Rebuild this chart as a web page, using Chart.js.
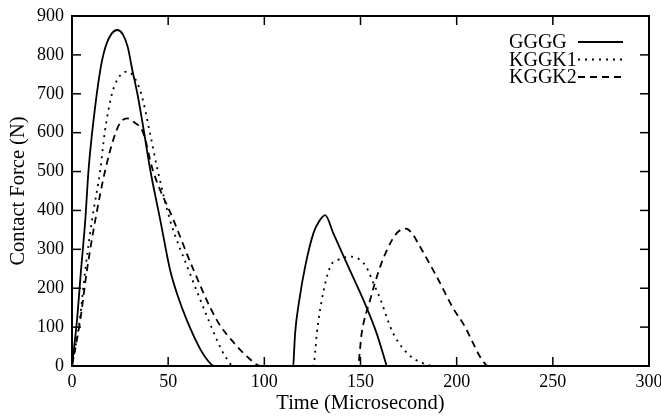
<!DOCTYPE html>
<html>
<head>
<meta charset="utf-8">
<script src="https://cdn.jsdelivr.net/npm/chart.js@4/dist/chart.umd.min.js"></script>
<style>
  html, body { margin: 0; padding: 0; background: #fff; }
  #wrap { width: 661px; height: 416px; position: relative; }
</style>
</head>
<body>
<div id="wrap"><canvas id="c"></canvas></div>
<script>
// ---- data ----
const seriesNames = ['GGGG', 'KGGK1', 'KGGK2'];

const ggggTime  = [0, 2.6, 4.7, 6.9, 8.6, 11.2, 14.7, 17.5, 20.5, 23.5, 26.5, 29, 31.2, 34, 36.5, 40.7, 45.9, 51, 55, 59.7, 66, 70, 74,
                   115, 115.5, 116, 118.2, 121.2, 125.5, 128.5, 131.6, 135.9, 143.7, 151.5, 158.4, 163.6];
const ggggForce = [0, 118, 247, 375, 504, 632, 761, 822, 854, 864, 852, 820, 765, 700, 630, 504, 375, 247, 180, 118, 50, 18, 0,
                   0, 40, 84, 170, 255, 341, 372, 388, 341, 255, 170, 84, 0];

const kggk1Time  = [0, 4, 6.9, 10.4, 14.7, 17, 20.8, 24, 28.6, 32, 36, 40.5, 44.5, 51, 60.6, 71, 76, 80, 84,
                    125.5, 126.5, 127.3, 129.9, 134.2, 138, 145.5, 150, 153, 157, 160.5, 164, 167, 171, 176, 181, 187];
const kggk1Force = [0, 118, 247, 375, 504, 600, 700, 740, 757, 745, 700, 600, 504, 375, 247, 118, 60, 22, 0,
                    0, 40, 84, 170, 255, 272, 281, 272, 255, 210, 170, 120, 84, 52, 25, 10, 0];

const kggk2Time  = [0, 4.3, 7.8, 12.1, 17.3, 22, 25, 28.6, 32, 37, 42, 52.8, 63.2, 75.3, 85, 92, 98,
                    148.6, 150.6, 155, 160.2, 166.5, 170, 173.5, 177, 180, 189.6, 198, 204.3, 208.6, 212, 215.6];
const kggk2Force = [0, 118, 247, 375, 504, 590, 625, 637, 628, 600, 504, 375, 247, 118, 55, 20, 0,
                    0, 84, 170, 255, 325, 347, 353, 340, 315, 230, 150, 101, 58, 25, 0];

const xMin = 0, xMax = 300, xStep = 50;
const yMin = 0, yMax = 900, yStep = 100;

// ---- build chart ----
const toPts = (t, f) => t.map((v, i) => ({ x: v, y: f[i] }));
const styles = [
  { dash: [] },
  { dash: [2, 5] },
  { dash: [7, 5] }
];
const seriesData = [toPts(ggggTime, ggggForce), toPts(kggk1Time, kggk1Force), toPts(kggk2Time, kggk2Force)];

const SERIF = '"Liberation Serif", "DejaVu Serif", serif';

const gnuplotFrame = {
  id: 'gnuplotFrame',
  afterDatasetsDraw(chart) {
    const { ctx, chartArea: a, scales: { x, y } } = chart;
    ctx.save();
    ctx.strokeStyle = '#000';
    ctx.setLineDash([]);
    const seg = (x1, y1, x2, y2) => { ctx.beginPath(); ctx.moveTo(x1, y1); ctx.lineTo(x2, y2); ctx.stroke(); };
    ctx.lineWidth = 1.5;
    const tl = 9;
    x.ticks.forEach(t => {
      const px = x.getPixelForValue(t.value);
      seg(px, a.bottom, px, a.bottom - tl);
      seg(px, a.top, px, a.top + tl);
    });
    y.ticks.forEach(t => {
      const py = y.getPixelForValue(t.value);
      seg(a.left, py, a.left + tl, py);
      seg(a.right, py, a.right - tl, py);
    });
    ctx.lineWidth = 2;
    ctx.strokeRect(a.left, a.top, a.right - a.left, a.bottom - a.top);

    // gnuplot-style key: text then line sample
    ctx.font = '20px ' + SERIF;
    ctx.fillStyle = '#000';
    ctx.textAlign = 'left';
    ctx.textBaseline = 'middle';
    chart.data.datasets.forEach((ds, i) => {
      const yy = a.top + 26 + i * 17.5;
      ctx.fillText(ds.label, a.right - 140, yy + 1);
      ctx.lineWidth = 1.8;
      ctx.setLineDash(ds.borderDash || []);
      seg(a.right - 71, yy, a.right - 26, yy);
      ctx.setLineDash([]);
    });
    ctx.restore();
  }
};

new Chart(document.getElementById('c'), {
  type: 'line',
  data: {
    datasets: seriesNames.map((name, i) => ({
      label: name,
      data: seriesData[i],
      borderColor: '#000',
      backgroundColor: '#000',
      borderWidth: 1.8,
      borderDash: styles[i].dash,
      pointRadius: 0,
      fill: false,
      cubicInterpolationMode: 'monotone'
    }))
  },
  options: {
    responsive: true,
    maintainAspectRatio: false,
    animation: false,
    events: [],
    layout: { padding: { top: 16, right: 12, left: 0, bottom: 0 } },
    plugins: { legend: { display: false }, tooltip: { enabled: false } },
    scales: {
      x: {
        type: 'linear',
        min: xMin, max: xMax,
        ticks: { stepSize: xStep, color: '#000', font: { family: SERIF, size: 18 }, padding: 5, maxRotation: 0 },
        grid: { display: false, drawTicks: false },
        border: { display: false },
        title: { display: true, text: 'Time (Microsecond)', color: '#000', font: { family: SERIF, size: 20.5 }, padding: { top: 0, bottom: 0 } },
        afterFit(scale) { scale.height = 50; scale.paddingRight = 0; scale.paddingLeft = 0; }
      },
      y: {
        type: 'linear',
        min: yMin, max: yMax,
        ticks: { stepSize: yStep, color: '#000', font: { family: SERIF, size: 18 }, padding: 8 },
        grid: { display: false, drawTicks: false },
        border: { display: false },
        title: { display: true, text: 'Contact Force (N)', color: '#000', font: { family: SERIF, size: 20.5 }, padding: { top: 6, bottom: 0 } },
        afterFit(scale) { scale.width = 72; scale.paddingTop = 0; scale.paddingBottom = 0; }
      }
    }
  },
  plugins: [gnuplotFrame]
});
</script>
</body>
</html>
